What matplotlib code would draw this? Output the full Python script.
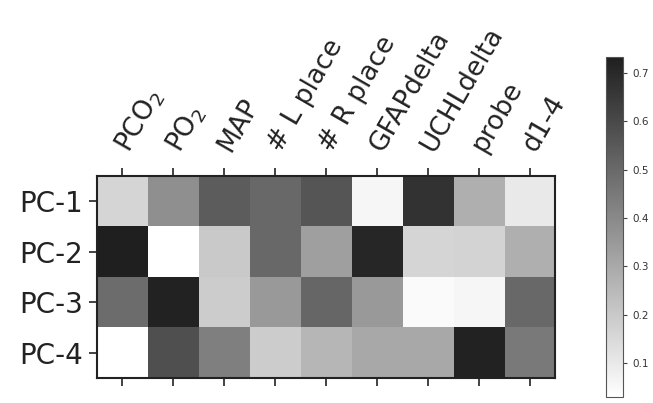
import numpy as np
import matplotlib
matplotlib.use("Agg")
import matplotlib.pyplot as plt
from matplotlib.colors import LinearSegmentedColormap

# variáveis e componentes
features = ["PCO$_2$", "PO$_2$", "MAP", "# L place", "# R place",
            "GFAPdelta", "UCHLdelta", "probe", "d1-4"]
components = ["PC-1", "PC-2", "PC-3", "PC-4"]

# cargas (valores absolutos)
pc1 = [0.16, 0.38, 0.54, 0.50, 0.56, 0.06, 0.67, 0.28, 0.10]
pc2 = [0.73, 0.03, 0.20, 0.50, 0.33, 0.71, 0.16, 0.17, 0.28]
pc3 = [0.49, 0.72, 0.19, 0.35, 0.51, 0.35, 0.045, 0.06, 0.50]
pc4 = [0.03, 0.58, 0.43, 0.19, 0.26, 0.30, 0.30, 0.72, 0.45]

cbar_ticks = [0.1, 0.2, 0.3, 0.4, 0.5, 0.6, 0.7]

loadings = np.array([pc1, pc2, pc3, pc4])

# escala de cinza (branco -> quase preto, como na figura escaneada)
cmap = LinearSegmentedColormap.from_list("cinza", ["#ffffff", "#1f1f1f"])

fig = plt.figure(figsize=(6.53, 4.03), dpi=100)
ax = fig.add_axes([0.1486, 0.062, 0.7014, 0.501])
cax = fig.add_axes([0.928, 0.015, 0.026, 0.844])

im = ax.imshow(loadings, cmap=cmap, aspect="auto",
               vmin=0.03, vmax=0.733, interpolation="nearest")

ax.set_xticks(np.arange(len(features)))
ax.set_xticklabels(features, rotation=60, ha="left", va="center",
                   rotation_mode="anchor", fontsize=19, color="#222222")
ax.set_yticks(np.arange(len(components)))
ax.set_yticklabels(components, fontsize=20, color="#222222")
ax.tick_params(top=True, bottom=True, labeltop=True, labelbottom=False,
               length=6, width=1.2, pad=4, color="#222222")
ax.tick_params(axis="x", pad=13)
for s in ax.spines.values():
    s.set_linewidth(1.5)
    s.set_color("#222222")

cb = fig.colorbar(im, cax=cax, ticks=cbar_ticks)
cb.ax.tick_params(labelsize=7.5, length=3, labelcolor="#333333", color="#444444")
cb.outline.set_linewidth(0.8)
cb.outline.set_edgecolor("#555555")

fig.savefig("out.png", dpi=100)
